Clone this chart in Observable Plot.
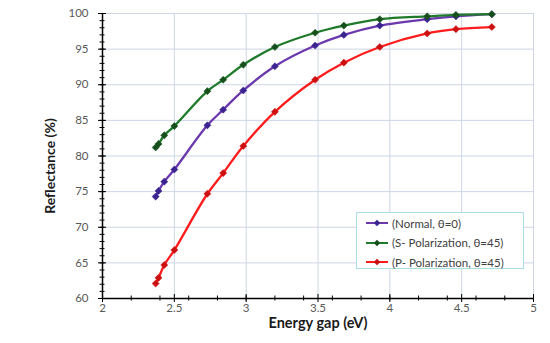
<!DOCTYPE html>
<html><head><meta charset="utf-8">
<script src="https://cdn.jsdelivr.net/npm/d3@7"></script>
<script src="https://cdn.jsdelivr.net/npm/@observablehq/plot@0.6"></script>
<style>
body{margin:0;background:#fff;}
#wrap{position:relative;width:550px;height:343px;font-family:Lato,"Open Sans",sans-serif;}
#legend{position:absolute;left:356px;top:212px;width:168px;height:57px;border:1px solid #a9dde6;background:#fff;box-sizing:border-box;}
.item{position:absolute;left:8px;height:14px;display:flex;align-items:center;font-size:11.5px;color:#404040;white-space:nowrap;}
.item svg{margin-right:3px;}
</style></head><body><div id="wrap"></div>
<script>
const energyGap = [2.37, 2.39, 2.43, 2.5, 2.73, 2.84, 2.98, 3.2, 3.48, 3.68, 3.93, 4.26, 4.46, 4.71];
const normalR = [74.3, 75.1, 76.4, 78.1, 84.3, 86.5, 89.2, 92.6, 95.5, 97.0, 98.3, 99.2, 99.6, 99.9];
const sPolR = [81.2, 81.7, 82.9, 84.2, 89.1, 90.7, 92.8, 95.3, 97.3, 98.3, 99.2, 99.6, 99.8, 99.9];
const pPolR = [62.1, 62.9, 64.7, 66.8, 74.7, 77.6, 81.4, 86.2, 90.7, 93.1, 95.3, 97.2, 97.8, 98.1];
const seriesNames = ["(Normal, θ=0)", "(S- Polarization, θ=45)", "(P- Polarization, θ=45)"];
const seriesValues = [normalR, sPolR, pPolR];
const seriesColors = ["#6b38ad", "#1f7a2b", "#ff1c1c"];
const markerColors = ["#3b2390", "#17501c", "#cc1010"];
const xTicks = [2, 2.5, 3, 3.5, 4, 4.5, 5];
const yTicks = [60, 65, 70, 75, 80, 85, 90, 95, 100];
const xMinorTicks = [2, 2.2, 2.4, 2.6, 2.8, 3, 3.2, 3.4, 3.6, 3.8, 4, 4.2, 4.4, 4.6, 4.8, 5];
const yMinorTicks = d3.range(60, 101, 1);
const xLabel = "Energy gap (eV)";
const yLabel = "Reflectance (%)";

const rows = seriesNames.flatMap((s, i) => energyGap.map((x, j) => ({series: s, x, y: seriesValues[i][j]})));
const drawOrder = [0, 2, 1];

const chart = Plot.plot({
  width: 550, height: 343,
  marginLeft: 102, marginRight: 17, marginTop: 13, marginBottom: 45,
  style: {fontFamily: "Lato, 'Open Sans', sans-serif", background: "#fff"},
  x: {domain: [2, 5]},
  y: {domain: [60, 100]},
  color: {domain: seriesNames, range: seriesColors},
  marks: [
    Plot.gridX(xTicks.slice(1), {stroke: "#cdd5e6", strokeOpacity: 1, strokeWidth: 1}),
    Plot.gridY(yTicks.slice(1), {stroke: "#cdd5e6", strokeOpacity: 1, strokeWidth: 1}),
    Plot.axisY(yTicks, {tickSize: 0, tickPadding: 14, fontSize: 11.5, fill: "#595959", label: null, tickFormat: d => String(d)}),
    Plot.axisY(yMinorTicks, {tickSize: 5, dx: 2.5, tickFormat: () => "", label: null, stroke: "#000"}),
    Plot.axisY(yTicks, {tickSize: 8, dx: 4, tickFormat: () => "", label: null, stroke: "#000"}),
    Plot.axisX(xTicks, {tickSize: 0, tickPadding: 5, fontSize: 11.5, fill: "#595959", label: null, tickFormat: d => String(d)}),
    Plot.axisX(xMinorTicks, {tickSize: 5, dy: -2.5, tickFormat: () => "", label: null, stroke: "#000"}),
    Plot.axisX(xTicks, {tickSize: 8, dy: -4, tickFormat: () => "", label: null, stroke: "#000"}),
    Plot.ruleX([2], {stroke: "#000", strokeWidth: 1.5}),
    Plot.ruleY([60], {stroke: "#000", strokeWidth: 1.5}),
    ...drawOrder.flatMap(i => [
      Plot.line(rows.filter(d => d.series === seriesNames[i]), {x: "x", y: "y", stroke: "series", curve: "catmull-rom", strokeWidth: 2.3}),
      Plot.dot(rows.filter(d => d.series === seriesNames[i]), {x: "x", y: "y", symbol: "diamond2", r: 3.2, fill: markerColors[i], stroke: markerColors[i], strokeWidth: 0.5})
    ]),
    Plot.text([yLabel], {frameAnchor: "left", dx: -52, dy: 10, rotate: -90, textAnchor: "middle", lineAnchor: "middle", fontWeight: "bold", fontSize: 14, fill: "#1a1a1a"}),
    Plot.text([xLabel], {frameAnchor: "bottom", dy: 25, textAnchor: "middle", lineAnchor: "middle", fontWeight: "bold", fontSize: 14.5, fill: "#1a1a1a"})
  ]
});
const wrap = document.getElementById("wrap");
wrap.appendChild(chart);

const legend = document.createElement("div");
legend.id = "legend";
seriesNames.forEach((name, i) => {
  const item = document.createElement("div");
  item.className = "item";
  item.style.top = (3 + i * 19.5) + "px";
  item.innerHTML = `<svg width="24" height="10"><line x1="1" x2="23" y1="5" y2="5" stroke="${seriesColors[i]}" stroke-width="2"/><path d="M12,1.8L15.2,5L12,8.2L8.8,5Z" fill="${markerColors[i]}"/></svg><span>${name}</span>`;
  legend.appendChild(item);
});
wrap.appendChild(legend);
</script>
</body></html>
